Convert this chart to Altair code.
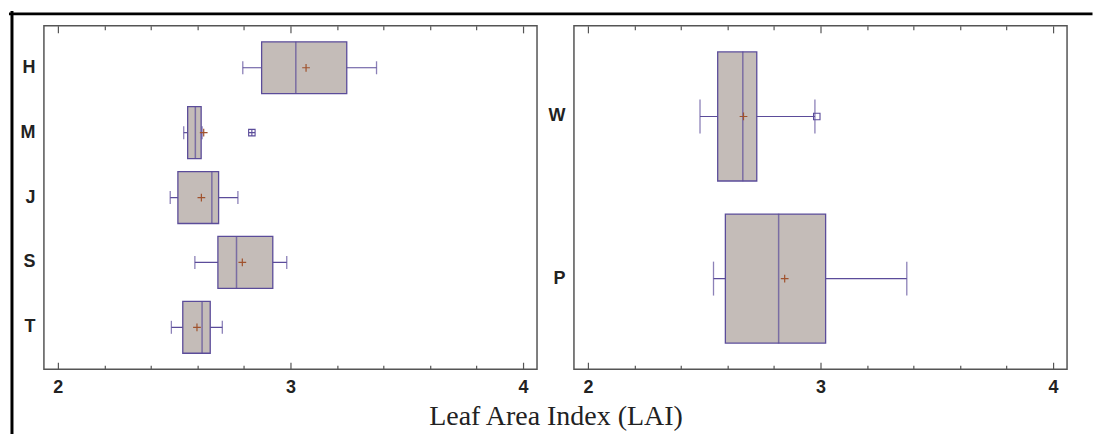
import altair as alt
import pandas as pd

# ---------------- data ----------------
left_cats = ["H", "M", "J", "S", "T"]
left_low = [2.795, 2.541, 2.483, 2.589, 2.488]
left_q1 = [2.876, 2.558, 2.516, 2.688, 2.537]
left_med = [3.023, 2.591, 2.662, 2.768, 2.620]
left_q3 = [3.242, 2.616, 2.691, 2.924, 2.655]
left_high = [3.370, 2.620, 2.774, 2.984, 2.707]
left_mean = [3.067, 2.627, 2.617, 2.793, 2.598]
left_out_cat = ["M"]
left_out_val = [2.834]

right_cats = ["W", "P"]
right_low = [2.482, 2.540]
right_q1 = [2.558, 2.591]
right_med = [2.666, 2.820]
right_q3 = [2.726, 3.022]
right_high = [2.976, 3.371]
right_mean = [2.669, 2.846]
right_out_cat = ["W"]
right_out_val = [2.984]

major_ticks = [2, 3, 4]
minor_ticks = [2.2, 2.4, 2.6, 2.8, 3.2, 3.4, 3.6, 3.8]
x_domain = [1.94, 4.06]
axis_title = "Leaf Area Index (LAI)"

# ---------------- style ----------------
SANS = "Liberation Sans"
SERIF = "Liberation Serif"
BOX_FILL = "#c4bcb8"
BOX_LINE = "#5b4c9a"
MEAN_COL = "#a0522d"
FRAME = "#555555"
TXT = "#222222"
W, H = 494, 344

PLUS = "M-1,0H1M0,-1V1"
BOXPLUS = "M-1,-1H1V1H-1ZM-1,0H1M0,-1V1"


def tick_axis(orient, values, size):
    return alt.Axis(orient=orient, values=values, labels=False, domain=False,
                    grid=False, title=None, tickColor=FRAME, tickWidth=1.2,
                    tickSize={"expr": str(-size)})


def panel(cats, low, q1, med, q3, high, mean, out_cat, out_val, out_shape,
          pad_inner, pad_outer, box_h, cap_h, with_title):
    df = pd.DataFrame({"cat": cats, "low": low, "q1": q1, "med": med,
                       "q3": q3, "high": high, "mean": mean})
    caps = pd.DataFrame({"cat": cats + cats, "v": low + high})
    outs = pd.DataFrame({"cat": out_cat, "v": out_val,
                         "shape": [out_shape] * len(out_cat)})

    xs = alt.Scale(domain=x_domain, nice=False, zero=False)
    ys = alt.Scale(domain=cats, paddingInner=pad_inner, paddingOuter=pad_outer)
    y_axis = alt.Axis(title=None, ticks=False, domain=False, grid=False,
                      labelFont=SANS, labelFontSize=18,
                      labelFontWeight="bold", labelColor=TXT,
                      labelPadding=9)
    y_ax = alt.Y("cat:N", scale=ys, sort=cats, axis=y_axis)

    lab_kwargs = dict(orient="bottom", values=[float(v) for v in major_ticks],
                      labelExpr="format(datum.value, '.0f')",
                      tickSize=0, tickOpacity=0, domain=False, grid=False,
                      labelFont=SANS, labelFontSize=18, labelFontWeight="bold",
                      labelColor=TXT, labelPadding=9, labelOverlap=False,
                      labelFlush=False, labelBound=False, labelSeparation=0)
    if with_title:
        lab_kwargs.update(title=axis_title, titleFont=SERIF, titleFontSize=28,
                          titleFontWeight="normal", titleColor=TXT,
                          titleX=512.5, titleY=55, titleAlign="center",
                          titleBaseline="alphabetic", titleAngle=0)
    else:
        lab_kwargs.update(title=None)
    lab_axis = alt.Axis(**lab_kwargs)

    base = alt.Chart(df)
    whisk = base.mark_rule(color=BOX_LINE, strokeWidth=1.2).encode(
        x=alt.X("low:Q", scale=xs, axis=lab_axis), x2="high:Q", y=y_ax)
    box = base.mark_bar(fill=BOX_FILL, stroke=BOX_LINE, strokeWidth=1.3).encode(
        x=alt.X("q1:Q", scale=xs, axis=tick_axis("bottom", major_ticks, 7)),
        x2="q3:Q", y=y_ax)
    medl = base.mark_tick(color=BOX_LINE, size=box_h, thickness=1.5).encode(
        x=alt.X("med:Q", scale=xs, axis=tick_axis("bottom", minor_ticks, 4)),
        y=y_ax)
    capl = alt.Chart(caps).mark_tick(color=BOX_LINE, size=cap_h, thickness=1.3).encode(
        x=alt.X("v:Q", scale=xs, axis=tick_axis("top", major_ticks, 7)), y=y_ax)
    meanp = base.mark_point(shape=PLUS, size=60, filled=False, color=MEAN_COL,
                            strokeWidth=1.2, opacity=1).encode(
        x=alt.X("mean:Q", scale=xs, axis=tick_axis("top", minor_ticks, 4)),
        y=y_ax)
    outp = alt.Chart(outs).mark_point(filled=False, size=42, color=BOX_LINE,
                                      strokeWidth=1.1, opacity=1).encode(
        x=alt.X("v:Q", scale=xs, axis=None), y=y_ax,
        shape=alt.Shape("shape:N", scale=None, legend=None))
    layers = [whisk, box, medl, capl, meanp, outp]
    if with_title:
        one = pd.DataFrame({"k": [0]})
        top_border = alt.Chart(one).mark_rule(color="black", strokeWidth=3,
                                              strokeCap="square").encode(
            x=alt.value(-33.5), x2=alt.value(1049), y=alt.value(-12))
        left_border = alt.Chart(one).mark_rule(color="black", strokeWidth=3,
                                               strokeCap="square").encode(
            x=alt.value(-32), y=alt.value(-13.5), y2=alt.value(407.5))
        layers += [top_border, left_border]
    return alt.layer(*layers).resolve_axis(x="independent").properties(
        width=W, height=H)


left = panel(left_cats, left_low, left_q1, left_med, left_q3, left_high,
             left_mean, left_out_cat, left_out_val, BOXPLUS,
             0.2, 0.246, 52, 13, True)
right = panel(right_cats, right_low, right_q1, right_med, right_q3, right_high,
              right_mean, right_out_cat, right_out_val, "square",
              0.204, 0.161, 130, 34, False)

chart = alt.hconcat(left, right, spacing=37, bounds="flush").properties(
    padding={"left": 7, "top": 8.5, "right": 0, "bottom": 0},
    background="white",
).configure_view(stroke=FRAME, strokeWidth=1.5)

chart.save("out.html", embed_options={"renderer": "svg", "actions": False})
